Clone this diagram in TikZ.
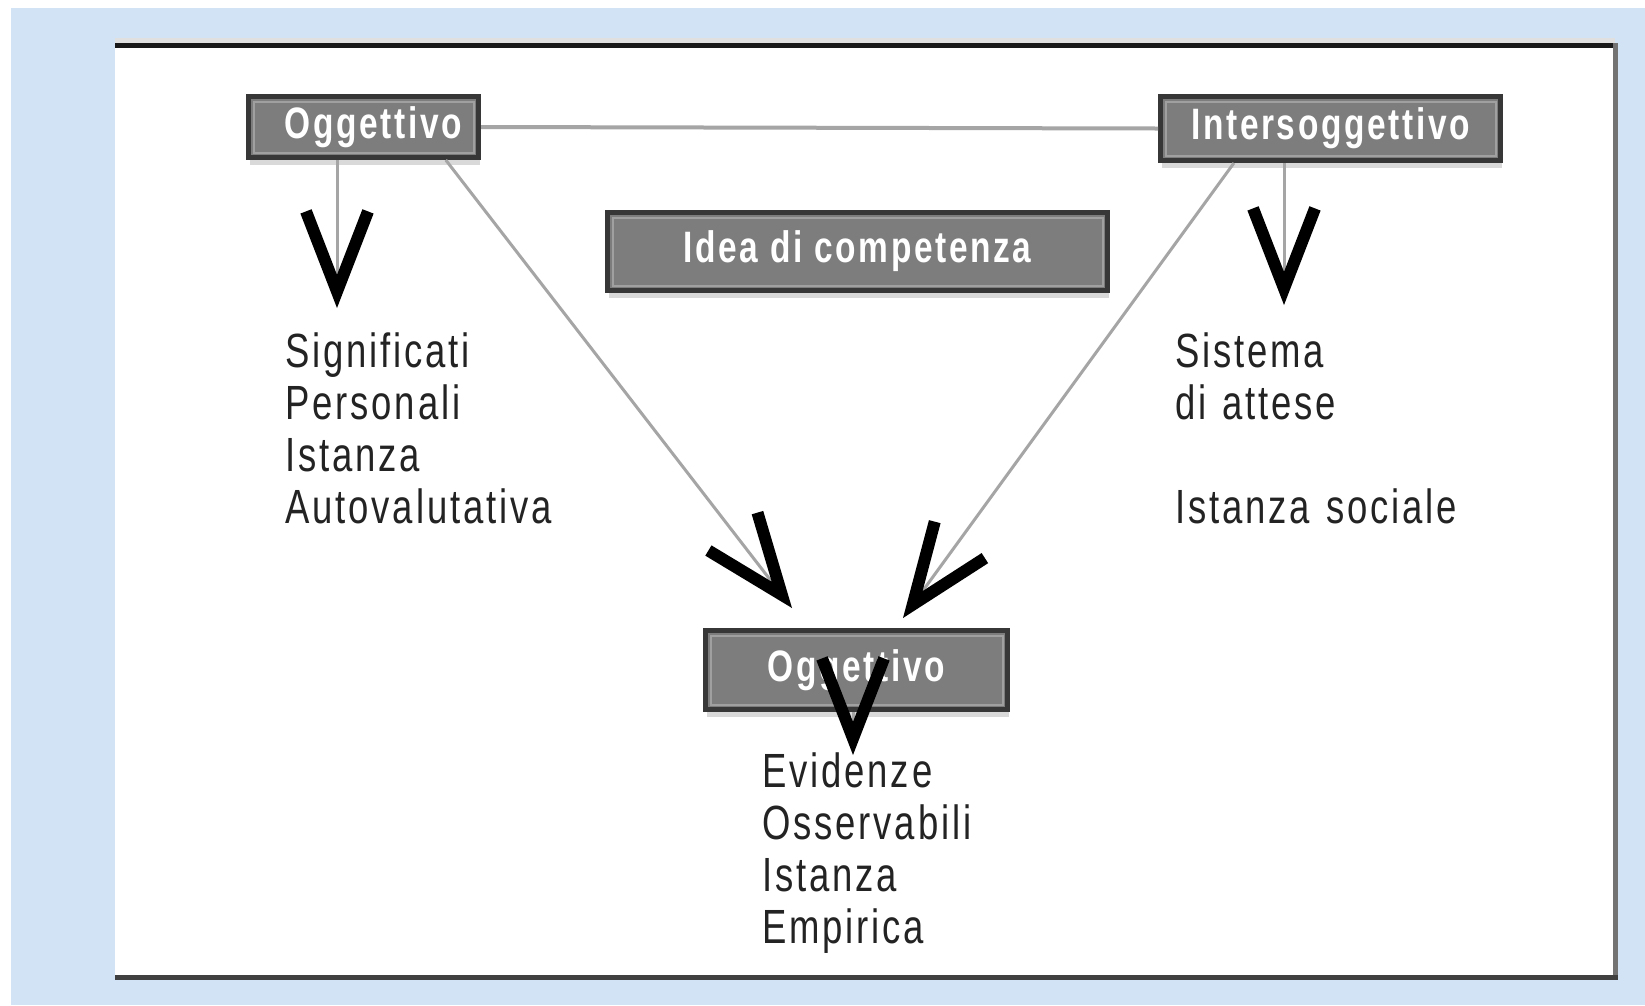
\documentclass[tikz,border=0pt]{standalone}
\usepackage{fontspec}
\newfontfamily\diagfont[FakeStretch=0.76,LetterSpace=6]{Liberation Sans}
\usetikzlibrary{arrows.meta,calc,shadows}

\definecolor{skyblue}{RGB}{210,227,245}
\definecolor{boxgray}{RGB}{125,125,125}
\definecolor{boxdark}{RGB}{55,55,55}
\definecolor{boxlight}{RGB}{160,160,160}
\definecolor{linegray}{RGB}{165,165,165}
\definecolor{inkgray}{RGB}{35,35,35}

\tikzset{
  tag/.style={draw=boxdark, line width=5pt, fill=boxgray, text=white, inner sep=0pt,
    font=\diagfont\bfseries\fontsize{44}{52}\selectfont,
    drop shadow={shadow xshift=1pt, shadow yshift=-7pt, fill=black!15, opacity=1},
    path picture={\draw[boxlight, line width=2pt]
      ([shift={(5pt,-5pt)}]path picture bounding box.north west) rectangle
      ([shift={(-5pt,5pt)}]path picture bounding box.south east);}},
  note/.style={anchor=base west, text=inkgray, inner sep=0pt, text width=320pt, align=left,
    font=\diagfont\fontsize{48}{52}\selectfont},
  link/.style={draw=linegray, line width=3pt},
  vee/.style={-{Straight Barb[length=80pt, width=62pt, line width=12pt, color=black, sharp]}}
}

\begin{document}
\begin{tikzpicture}[x=1pt, y=-1pt]
  \useasboundingbox (0,0) rectangle (1645,1005);

  % sfondo e cornice
  \fill[white] (0,0) rectangle (1645,1005);
  \fill[skyblue] (11,8) rectangle (1645,1005);
  \fill[white] (115,43) rectangle (1615,977);
  \draw[black!12, line width=5pt] (115,40.5) -- (1615,40.5);
  \draw[black!90, line width=5pt] (115,45.5) -- (1615,45.5);
  \draw[black!55, line width=5pt] (1615.5,43) -- (1615.5,980);
  \draw[black!75, line width=5pt] (115,977.5) -- (1618,977.5);

  % riquadri
  \node[tag, minimum width=230pt, minimum height=61pt] (objtop) at (363.5,127) {\hspace*{20pt}Oggettivo};
  \node[tag, minimum width=340pt, minimum height=64pt] (inter) at (1330.5,128.5) {Intersoggettivo};
  \node[tag, minimum width=500pt, minimum height=78pt] (idea) at (857.5,251.5) {Idea di competenza};
  \node[tag, minimum width=302pt, minimum height=79pt] (objbot) at (856.5,670) {Oggettivo};

  % testi
  \node[note] (signif) at (285,367) {Significati\\Personali\\Istanza\\Autovalutativa};
  \node[note] (attese) at (1175,367) {Sistema\\di attese\\[52pt]Istanza sociale};
  \node[note] (evid) at (762,787) {Evidenze\\Osservabili\\Istanza\\Empirica};

  % punte
  \coordinate (tipA) at (337,308);
  \coordinate (tipB) at (792,608);
  \coordinate (tipC) at (903,618);
  \coordinate (tipD) at (1284,305);
  \coordinate (tipE) at (853,755);

  \draw[link, line width=4pt] (objtop.east) -- (inter.west);
  \draw[link, vee] (objtop.south -| tipA) -- (tipA);
  \draw[link, vee] ($(objtop.south west)!0.85!(objtop.south east)$) -- (tipB);
  \draw[link, vee] ($(inter.south west)!0.22!(inter.south east)$) -- (tipC);
  \draw[link, vee] (inter.south -| tipD) -- (tipD);
  \draw[link, vee] (objbot.south -| tipE) -- (tipE);
\end{tikzpicture}
\end{document}
